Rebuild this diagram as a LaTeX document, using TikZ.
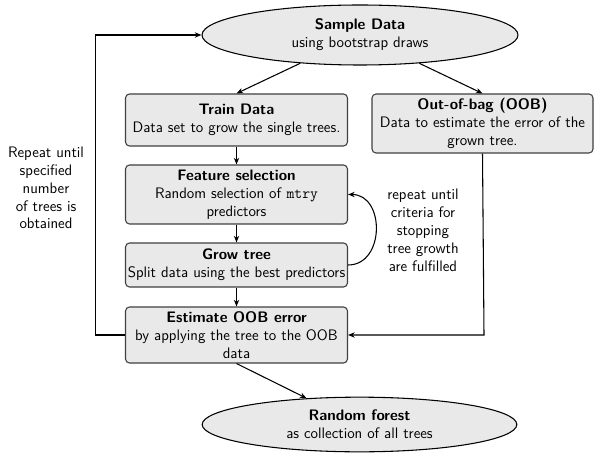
\documentclass[tikz,border=0pt]{standalone}
\usetikzlibrary{shapes.geometric,arrows.meta}
\begin{document}
\begin{tikzpicture}[x=0.75pt,y=-0.75pt,
  font=\sffamily\fontsize{11.4}{13.4}\selectfont,
  every path/.style={line width=0.8pt},
  box/.style={draw=black!75, fill=gray!17, rounded corners=3pt, align=center, inner sep=0pt, minimum width=166.5pt},
  oval/.style={ellipse, draw=black, fill=gray!17, align=center, inner sep=0pt},
  lbl/.style={align=center, inner sep=0pt},
  arr/.style={-{Stealth[length=5pt,width=4pt]}, draw=black}
]
\useasboundingbox (0,0) rectangle (609,459);
\node[oval, minimum width=237pt, minimum height=45pt] (sample) at (360,35) {\textbf{Sample Data}\\using bootstrap draws};
\node[box, minimum height=39pt] (train) at (236.5,120) {\textbf{Train Data}\\Data set to grow the single trees.};
\node[box, minimum width=165.75pt, minimum height=44.25pt] (oob) at (482.5,123.5) {\textbf{Out-of-bag (OOB)}\\Data to estimate the error of the\\grown tree.};
\node[box, minimum height=44.25pt] (feature) at (236.5,194.5) {\textbf{Feature selection}\\Random selection of \texttt{mtry}\\predictors};
\node[box, minimum height=33pt] (grow) at (236.5,265) {\textbf{Grow tree}\\Split data using the best predictors};
\node[box, minimum height=42pt] (estimate) at (236.5,335) {\textbf{Estimate OOB error}\\by applying the tree to the OOB\\data};
\node[oval, minimum width=236pt, minimum height=41pt] (forest) at (359.5,424.5) {\textbf{Random forest}\\as collection of all trees};
\node[lbl] (inner) at (423,230.5) {repeat until\\criteria for\\stopping\\tree growth\\are fulfilled};
\node[lbl] (outer) at (46,188) {Repeat until\\specified\\number\\of trees is\\obtained};
\coordinate (lefttop) at (95.4,35);
\coordinate (rightbot) at (484,335);
\draw[arr] (sample) -- (train.north);
\draw[arr] (sample) -- (oob.north);
\draw[arr] (train) -- (feature);
\draw[arr] (feature) -- (grow);
\draw[arr] (grow) -- (estimate);
\draw[arr] (grow.east) to[out=0,in=0,looseness=1.35] (feature.east);
\draw[arr] (estimate.south) -- (forest);
\draw[arr] (estimate.west) -| (lefttop) -- (sample.west);
\draw[arr] (oob.south) -- (rightbot) -- (estimate.east);
\end{tikzpicture}
\end{document}
